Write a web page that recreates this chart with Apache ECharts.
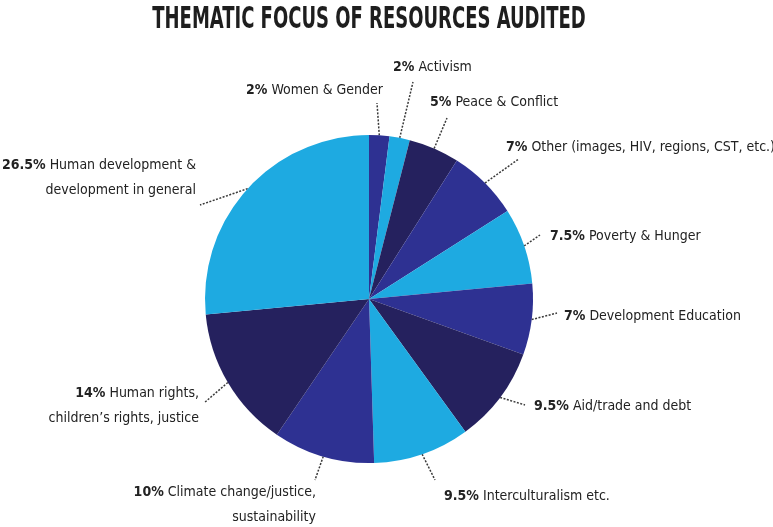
<!DOCTYPE html>
<html>
<head>
<meta charset="utf-8">
<script src="https://cdn.jsdelivr.net/npm/echarts@6/dist/echarts.min.js"></script>
<style>
html,body{margin:0;padding:0;background:#fff;}
#chart{width:773px;height:527px;}
</style>
</head>
<body>
<div id="chart"></div>
<script>
// ---- data ----
const titleText = 'THEMATIC FOCUS OF RESOURCES AUDITED';
const percentLabels = ['2%', '2%', '5%', '7%', '7.5%', '7%', '9.5%', '9.5%', '10%', '14%', '26.5%'];
const values = [2, 2, 5, 7, 7.5, 7, 9.5, 9.5, 10, 14, 26.5];
const categories = [
  ['Women & Gender'],
  ['Activism'],
  ['Peace & Conflict'],
  ['Other (images, HIV, regions, CST, etc.)'],
  ['Poverty & Hunger'],
  ['Development Education'],
  ['Aid/trade and debt'],
  ['Interculturalism etc.'],
  ['Climate change/justice,', 'sustainability'],
  ['Human rights,', 'children\u2019s rights, justice'],
  ['Human development &', 'development in general']
];

// ---- layout / style (not data) ----
const LIGHT = '#1eaae1', INDIGO = '#2e3192', NAVY = '#25215e';
const sliceColors = [INDIGO, LIGHT, NAVY, INDIGO, LIGHT, INDIGO, NAVY, LIGHT, INDIGO, NAVY, LIGHT];
// [textX, align, textCenterY, side of the label where the leader line ends, lineEndX, lineEndY]
const labelSpec = [
  [383, 'right', 90, 'bottom', 377, 103],
  [393, 'left', 67, 'bottom', 413, 82],
  [430, 'left', 102, 'bottom', 447, 118],
  [506, 'left', 147, 'bottom', 518, 159],
  [550, 'left', 236, 'left', 540, 235],
  [564, 'left', 316, 'left', 557, 313],
  [534, 'left', 406, 'left', 525, 405],
  [444, 'left', 496, 'left', 435, 480],
  [316, 'right', 505, 'top', 315, 482],
  [199, 'right', 406, 'right', 204, 403],
  [196, 'right', 178, 'right', 200, 205]
];
const FAMILY = '"DejaVu Sans", sans-serif';
const STRETCH = 'condensed';
const FS = 14;
const LH = 25;

// measure label text widths with the same fonts zrender uses
const mctx = document.createElement('canvas').getContext('2d');
function tw(txt, weight) {
  mctx.font = STRETCH + ' ' + weight + ' ' + FS + 'px ' + FAMILY;
  return mctx.measureText(txt).width;
}
const boxes = categories.map((lines, i) => {
  const s = labelSpec[i];
  let W = tw(percentLabels[i], 'bold') + tw(' ' + lines[0], 'normal');
  for (let k = 1; k < lines.length; k++) W = Math.max(W, tw(lines[k], 'normal'));
  const H = LH * lines.length;
  const top = s[2] - H / 2, bottom = s[2] + H / 2;
  const L = s[1] === 'left' ? s[0] : s[0] - W;
  const R = L + W, cx = L + W / 2;
  const p = {t: 0, r: 0, b: 0, l: 0};
  const side = s[3], ox = s[4], oy = s[5];
  if (side === 'left' || side === 'right') {
    if (side === 'left') p.l = Math.max(0, L - ox); else p.r = Math.max(0, ox - R);
    const d = oy - s[2];
    if (d > 0) p.b = 2 * d; else p.t = -2 * d;
  } else {
    if (side === 'bottom') p.b = Math.max(0, oy - bottom); else p.t = Math.max(0, top - oy);
    const d = ox - cx;
    if (d > 0) p.r = 2 * d; else p.l = -2 * d;
  }
  return {
    x: s[1] === 'left' ? L - p.l : R + p.r,
    y: top - p.t,
    align: s[1],
    padding: [p.t, p.r, p.b, p.l]
  };
});

const chart = echarts.init(document.getElementById('chart'), null, {renderer: 'canvas'});

const data = values.map((v, i) => ({
  value: v,
  name: categories[i].join(' '),
  itemStyle: {color: sliceColors[i]},
  label: {align: boxes[i].align, padding: boxes[i].padding}
}));

chart.setOption({
  animation: false,
  graphic: [{
    type: 'text',
    x: 369,
    y: 20,
    scaleY: 1.5,
    style: {
      text: titleText,
      font: STRETCH + ' bold 20px ' + FAMILY,
      fill: '#1e1e1e',
      textAlign: 'center',
      textVerticalAlign: 'middle'
    }
  }],
  series: [{
    type: 'pie',
    center: [369, 299],
    radius: 164,
    startAngle: 90,
    clockwise: true,
    avoidLabelOverlap: false,
    emphasis: {disabled: true},
    itemStyle: {borderWidth: 0},
    data: data,
    label: {
      show: true,
      position: 'outside',
      fontFamily: FAMILY,
      fontStyle: STRETCH,
      fontSize: FS,
      color: '#222',
      lineHeight: LH,
      formatter: function (p) {
        const i = p.dataIndex;
        const lines = categories[i];
        let s = '{p|' + percentLabels[i] + '} {n|' + lines[0] + '}';
        for (let k = 1; k < lines.length; k++) s += '\n{n|' + lines[k] + '}';
        return s;
      },
      rich: {
        p: {fontFamily: FAMILY, fontStyle: STRETCH, fontSize: FS, fontWeight: 'bold', color: '#222', lineHeight: LH},
        n: {fontFamily: FAMILY, fontStyle: STRETCH, fontSize: FS, color: '#222', lineHeight: LH}
      }
    },
    labelLine: {
      show: true,
      length: 10,
      length2: 0,
      smooth: false,
      lineStyle: {color: '#3a3a3a', width: 1.5, type: [2, 1.5]}
    },
    labelLayout: function (params) {
      const b = boxes[params.dataIndex];
      return {x: b.x, y: b.y, align: b.align, verticalAlign: 'top'};
    }
  }]
});
</script>
</body>
</html>
